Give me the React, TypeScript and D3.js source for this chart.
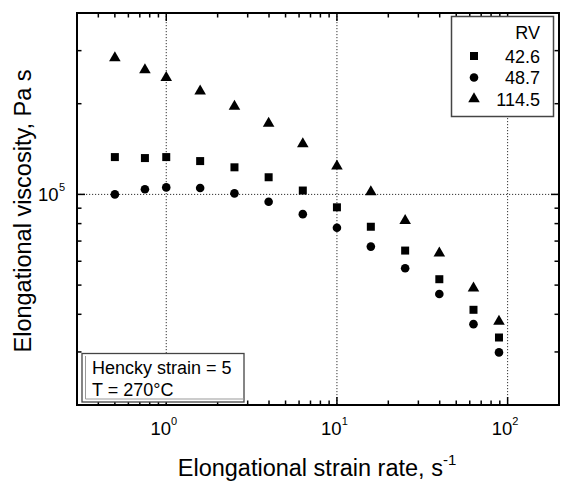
import React from "react";
import * as d3 from "d3";

const strainRates = [0.5, 0.75, 1.0, 1.58, 2.51, 3.98, 6.31, 10, 15.8, 25.1, 39.8, 63.1, 89];
const rv426 = [133000, 132000, 133000, 129000, 123000, 114000, 103000, 90600, 78100, 65100, 52300, 41400, 33500];
const rv487 = [100000, 104000, 105500, 105000, 100800, 94500, 86000, 77500, 67100, 56900, 46700, 37100, 29900];
const rv1145 = [284000, 259000, 244000, 220000, 196000, 172000, 147000, 124000, 102000, 81800, 63800, 48800, 37900];
const seriesNames = ["42.6", "48.7", "114.5"];
const seriesShapes = ["square", "circle", "triangle"];
const xMajor = [1, 10, 100];
const xMajorExp = ["0", "1", "2"];
const yMajor = [1e5];
const yMajorExp = ["5"];
const xMinor = [0.4, 0.5, 0.6, 0.7, 0.8, 0.9, 2, 3, 4, 5, 6, 7, 8, 9, 20, 30, 40, 50, 60, 70, 80, 90];
const yMinor = [3e4, 4e4, 5e4, 6e4, 7e4, 8e4, 9e4, 2e5, 3e5];

const L = 77, R = 559, T = 13, B = 405;
const FONT = "'Liberation Sans', Arial, sans-serif";

function Marker({ shape, cx, cy }: { shape: string; cx: number; cy: number }) {
  if (shape === "square") return <rect x={cx - 4} y={cy - 4} width={8} height={8} fill="#000" />;
  if (shape === "circle") return <circle cx={cx} cy={cy} r={4.3} fill="#000" />;
  const p = d3.symbol(d3.symbolTriangle, 58)();
  return <path d={p as string} transform={`translate(${cx},${cy})`} fill="#000" />;
}

export default function App() {
  const x = d3.scaleLog().domain([0.3, 200]).range([L, R]);
  const y = d3.scaleLog().domain([2e4, 4e5]).range([B, T]);
  const series = [rv426, rv487, rv1145];

  return (
    <svg width={561} height={481} style={{ position: "absolute", left: 0, top: 0, background: "#fff" }} fontFamily={FONT}>
      <rect x={0} y={0} width={561} height={481} fill="#fff" />
      {/* grid */}
      {xMajor.map((v) => (
        <line key={"gx" + v} x1={x(v)} x2={x(v)} y1={T} y2={B} stroke="#333" strokeWidth={1} strokeDasharray="1.2,1.8" />
      ))}
      {yMajor.map((v) => (
        <line key={"gy" + v} x1={L} x2={R} y1={y(v)} y2={y(v)} stroke="#333" strokeWidth={1} strokeDasharray="1.2,1.8" />
      ))}
      {/* ticks */}
      {xMajor.map((v) => (
        <g key={"xt" + v}>
          <line x1={x(v)} x2={x(v)} y1={B} y2={B - 8} stroke="#000" strokeWidth={1.5} />
          <line x1={x(v)} x2={x(v)} y1={T} y2={T + 8} stroke="#000" strokeWidth={1.5} />
        </g>
      ))}
      {xMinor.map((v) => (
        <g key={"xm" + v}>
          <line x1={x(v)} x2={x(v)} y1={B} y2={B - 4.5} stroke="#000" strokeWidth={1.5} />
          <line x1={x(v)} x2={x(v)} y1={T} y2={T + 4.5} stroke="#000" strokeWidth={1.5} />
        </g>
      ))}
      {yMajor.map((v) => (
        <g key={"yt" + v}>
          <line x1={L} x2={L + 8} y1={y(v)} y2={y(v)} stroke="#000" strokeWidth={1.5} />
          <line x1={R} x2={R - 8} y1={y(v)} y2={y(v)} stroke="#000" strokeWidth={1.5} />
        </g>
      ))}
      {yMinor.map((v) => (
        <g key={"ym" + v}>
          <line x1={L} x2={L + 4.5} y1={y(v)} y2={y(v)} stroke="#000" strokeWidth={1.5} />
          <line x1={R} x2={R - 4.5} y1={y(v)} y2={y(v)} stroke="#000" strokeWidth={1.5} />
        </g>
      ))}
      {/* frame */}
      <rect x={L} y={T} width={R - L} height={B - T} fill="none" stroke="#000" strokeWidth={2} />
      {/* tick labels */}
      {xMajor.map((v, i) => (
        <text key={"xl" + v} x={x(v) - 2.5} y={435} fontSize={18.5} textAnchor="middle">
          10<tspan fontSize={11} dy={-10}>{xMajorExp[i]}</tspan>
        </text>
      ))}
      {yMajor.map((v, i) => (
        <text key={"yl" + v} x={58.5} y={y(v) + 6.5} fontSize={18.5} textAnchor="end">
          10<tspan x={59} fontSize={11} dy={-10} textAnchor="start">{yMajorExp[i]}</tspan>
        </text>
      ))}
      {/* axis titles */}
      <text x={317} y={476} fontSize={23.5} textAnchor="middle">
        Elongational strain rate, s<tspan fontSize={15} dy={-11}>-1</tspan>
      </text>
      <text transform="translate(30.5,211) rotate(-90)" fontSize={23.5} textAnchor="middle">
        Elongational viscosity, Pa s
      </text>
      {/* data */}
      {series.map((s, si) =>
        s.map((v, i) => <Marker key={si + "-" + i} shape={seriesShapes[si]} cx={x(strainRates[i])} cy={y(v)} />)
      )}
      {/* legend */}
      <rect x={451.5} y={16.5} width={102} height={100} fill="#fff" stroke="#444" strokeWidth={1.5} />
      <text x={540} y={38.5} fontSize={18} textAnchor="end">RV</text>
      {seriesNames.map((n, i) => (
        <g key={"lg" + n}>
          <Marker shape={seriesShapes[i]} cx={474} cy={56 + i * 21.5} />
          <text x={540} y={62.5 + i * 21.5} fontSize={18} textAnchor="end">{n}</text>
        </g>
      ))}
      {/* annotation box */}
      <rect x={82} y={353.5} width={162} height={48.5} fill="#fff" stroke="#444" strokeWidth={1.3} />
      <polyline points="85.5,356 85.5,399 244,399" fill="none" stroke="#999" strokeWidth={1} />
      <text x={92} y={373.5} fontSize={18}>Hencky strain = 5</text>
      <text x={92} y={395.5} fontSize={18}>T = 270°C</text>
    </svg>
  );
}
